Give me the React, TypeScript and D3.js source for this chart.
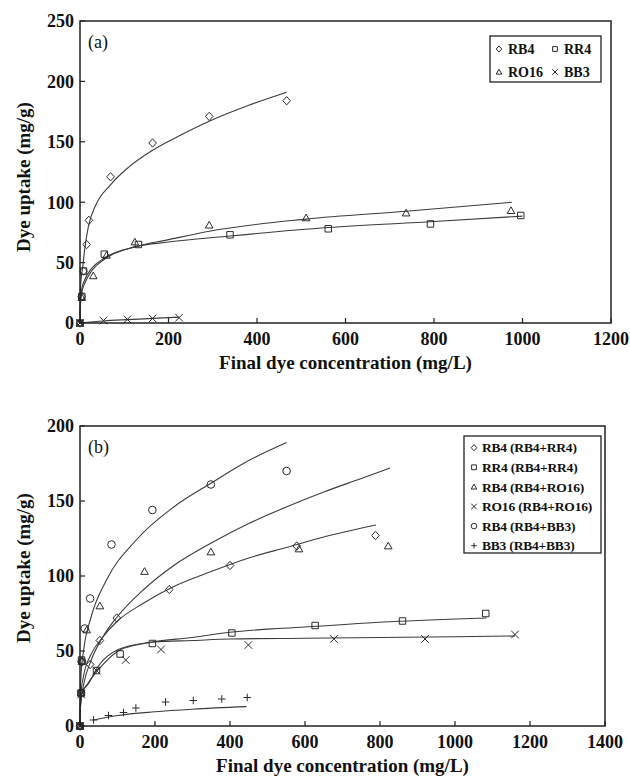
import { useEffect, useRef } from 'react'
import * as d3 from 'd3'

type Pt = [number, number]

// ---- panel (a): single-dye systems, [C, q] pairs ----
const aRB4Pts: Pt[] = [[0, 0], [4, 22], [8, 43], [15, 65], [20, 85], [69, 121], [164, 149], [292, 171], [467, 184]]
const aRR4Pts: Pt[] = [[0, 0], [4, 22], [8, 43], [55, 57], [132, 65], [339, 73], [561, 78], [792, 82], [996, 89]]
const aRO16Pts: Pt[] = [[0, 0], [4, 21], [30, 39], [60, 56], [124, 67], [292, 81], [511, 87], [737, 91], [974, 93]]
const aBB3Pts: Pt[] = [[0, 0], [53, 2], [107, 3], [164, 3.8], [224, 4.4]]

const aRB4Fit: Pt[] = [[0, 0], [1, 28], [3, 38], [6, 46], [11, 62], [19, 80], [35, 97], [68, 114], [110, 129], [164, 143], [230, 156], [292, 167], [380, 180], [467, 191]]
const aRR4Fit: Pt[] = [[0, 0], [1, 18], [4, 28], [11, 36], [26, 45], [56, 54], [124, 63], [200, 67], [339, 72], [561, 79], [800, 84], [1000, 88.5]]
const aRO16Fit: Pt[] = [[0, 0], [1, 15], [4, 25], [11, 33], [26, 43], [56, 53], [124, 63], [200, 69], [292, 76], [511, 86], [737, 92.5], [976, 100]]
const aBB3Fit: Pt[] = [[0, 0], [53, 1.7], [107, 2.8], [164, 3.8], [224, 4.9]]

// ---- panel (b): binary systems ----
const bRB4rrPts: Pt[] = [[0, 0], [3, 22], [5, 43], [27, 41], [53, 57], [98, 72], [238, 91], [400, 107], [578, 120], [788, 127]]
const bRR4rrPts: Pt[] = [[0, 0], [3, 22], [4, 44], [44, 37], [107, 48], [193, 55], [405, 62], [627, 67], [860, 70], [1082, 75]]
const bRB4roPts: Pt[] = [[0, 0], [3, 22], [5, 43], [18, 64], [53, 80], [172, 103], [349, 116], [584, 118], [822, 120]]
const bRO16roPts: Pt[] = [[0, 0], [3, 21], [44, 37], [122, 44], [216, 51], [449, 54], [677, 58], [920, 58], [1160, 61]]
const bRB4bbPts: Pt[] = [[0, 0], [3, 22], [5, 43], [13, 65], [27, 85], [84, 121], [193, 144], [349, 161], [551, 170]]
const bBB3bbPts: Pt[] = [[0, 0], [36, 4], [76, 7], [116, 9], [149, 12], [228, 16], [302, 17], [378, 18], [446, 19]]

const bRB4rrFit: Pt[] = [[0, 0], [1, 16], [3, 23], [10, 34], [30, 48], [60, 59], [100, 70], [170, 82], [250, 93], [350, 103], [450, 112], [550, 119], [650, 126], [789, 134]]
const bRR4rrFit: Pt[] = [[0, 0], [1, 13], [4, 22], [22, 28], [49, 40], [102, 51], [191, 56], [300, 59], [400, 62.5], [600, 66], [827, 69.5], [1084, 72]]
const bRB4roFit: Pt[] = [[0, 0], [1, 11], [3, 17], [10, 28], [30, 44], [60, 59], [100, 73], [170, 91], [250, 107], [350, 122], [450, 135], [550, 146], [650, 156], [750, 165], [827, 172]]
const bRO16roFit: Pt[] = [[0, 0], [1, 12], [4, 21], [20, 28], [49, 37.5], [102, 50], [150, 54], [200, 56], [300, 57], [400, 58], [600, 58.5], [800, 59], [1000, 59.5], [1160, 60]]
const bRB4bbFit: Pt[] = [[0, 0], [1, 24], [3, 35], [10, 51], [30, 73], [70, 97], [150, 124], [250, 146], [350, 162], [450, 177], [551, 189]]
const bBB3bbFit: Pt[] = [[36, 4], [100, 7], [200, 9.5], [300, 11.2], [444, 12.9]]

const aLegend = ['RB4', 'RR4', 'RO16', 'BB3']
const bLegend = ['RB4 (RB4+RR4)', 'RR4 (RB4+RR4)', 'RB4 (RB4+RO16)', 'RO16 (RB4+RO16)', 'RB4 (RB4+BB3)', 'BB3 (RB4+BB3)']

const xTicksA = [0, 200, 400, 600, 800, 1000, 1200]
const yTicksA = [0, 50, 100, 150, 200, 250]
const xTicksB = [0, 200, 400, 600, 800, 1000, 1200, 1400]
const yTicksB = [0, 50, 100, 150, 200]

const FONT = '"Liberation Serif", "Times New Roman", serif'
const INK = '#2b2b2b'

type Shape = 'diamond' | 'square' | 'triangle' | 'cross' | 'circle' | 'plus'

function markerPath(s: Shape, r: number) {
  switch (s) {
    case 'diamond': return `M0,${-r * 1.1}L${r},0L0,${r * 1.1}L${-r},0Z`
    case 'square': return `M${-r * 0.85},${-r * 0.85}h${r * 1.7}v${r * 1.7}h${-r * 1.7}Z`
    case 'triangle': return `M0,${-r}L${r},${r * 0.75}L${-r},${r * 0.75}Z`
    case 'cross': return `M${-r},${-r}L${r},${r}M${-r},${r}L${r},${-r}`
    case 'plus': return `M${-r},0L${r},0M0,${-r}L0,${r}`
    default: return `M${r},0A${r},${r} 0 1,1 ${-r},0A${r},${r} 0 1,1 ${r},0Z`
  }
}

interface PanelSpec {
  left: number; right: number; top: number; bottom: number
  xMax: number; yMax: number
  xTicks: number[]; yTicks: number[]
  label: string
  series: { pts: Pt[]; fit: Pt[]; shape: Shape }[]
}

function drawPanel(svg: d3.Selection<SVGSVGElement, unknown, null, undefined>, p: PanelSpec) {
  const x = d3.scaleLinear().domain([0, p.xMax]).range([p.left, p.right])
  const y = d3.scaleLinear().domain([0, p.yMax]).range([p.bottom, p.top])
  const g = svg.append('g')

  const line = d3.line<Pt>().x(d => x(d[0])).y(d => y(d[1])).curve(d3.curveMonotoneX)

  p.series.forEach(s => {
    g.append('path').datum(s.fit)
      .attr('fill', 'none').attr('stroke', '#3c3c3c').attr('stroke-width', 1.1)
      .attr('d', line)
  })
  p.series.forEach(s => {
    g.selectAll(null).data(s.pts).enter().append('path')
      .attr('transform', d => `translate(${x(d[0])},${y(d[1])})`)
      .attr('d', markerPath(s.shape, 3.8))
      .attr('fill', 'none').attr('stroke', INK).attr('stroke-width', 1)
  })

  // frame
  g.append('rect')
    .attr('x', p.left).attr('y', p.top)
    .attr('width', p.right - p.left).attr('height', p.bottom - p.top)
    .attr('fill', 'none').attr('stroke', '#222').attr('stroke-width', 1.5)

  // ticks, pointing inward
  p.xTicks.forEach(t => {
    g.append('line').attr('x1', x(t)).attr('x2', x(t)).attr('y1', p.bottom).attr('y2', p.bottom - 5)
      .attr('stroke', '#222').attr('stroke-width', 1.2)
    g.append('text').attr('x', x(t)).attr('y', p.bottom + 22)
      .attr('text-anchor', 'middle').attr('font-family', FONT).attr('font-weight', 'bold')
      .attr('font-size', 18).attr('fill', '#111').text(t)
  })
  p.yTicks.forEach(t => {
    g.append('line').attr('x1', p.left).attr('x2', p.left + 5).attr('y1', y(t)).attr('y2', y(t))
      .attr('stroke', '#222').attr('stroke-width', 1.2)
    g.append('text').attr('x', p.left - 6).attr('y', y(t)).attr('dy', '0.35em')
      .attr('text-anchor', 'end').attr('font-family', FONT).attr('font-weight', 'bold')
      .attr('font-size', 18).attr('fill', '#111').text(t)
  })

  g.append('text').attr('x', p.left + 8).attr('y', p.top + 27)
    .attr('font-family', FONT).attr('font-size', 18).attr('fill', '#111').text(p.label)

  g.append('text').attr('x', (p.left + p.right) / 2).attr('y', p.bottom + 46)
    .attr('text-anchor', 'middle').attr('font-family', FONT).attr('font-weight', 'bold')
    .attr('font-size', 19).attr('fill', '#111').text('Final dye concentration (mg/L)')

  g.append('text')
    .attr('transform', `translate(23,${(p.top + p.bottom) / 2 + (p.top < 100 ? 5 : -8)}) rotate(-90)`)
    .attr('dy', '0.35em').attr('text-anchor', 'middle').attr('font-family', FONT)
    .attr('font-weight', 'bold').attr('font-size', 19).attr('fill', '#111').text('Dye uptake (mg/g)')
}

export default function App() {
  const ref = useRef<SVGSVGElement>(null)

  useEffect(() => {
    if (!ref.current) return
    const svg = d3.select(ref.current)
    svg.selectAll('*').remove()

    drawPanel(svg, {
      left: 80, right: 611, top: 21, bottom: 323, xMax: 1200, yMax: 250,
      xTicks: xTicksA, yTicks: yTicksA, label: '(a)',
      series: [
        { pts: aRB4Pts, fit: aRB4Fit, shape: 'diamond' },
        { pts: aRR4Pts, fit: aRR4Fit, shape: 'square' },
        { pts: aRO16Pts, fit: aRO16Fit, shape: 'triangle' },
        { pts: aBB3Pts, fit: aBB3Fit, shape: 'cross' },
      ],
    })
    drawPanel(svg, {
      left: 80, right: 605, top: 426, bottom: 726, xMax: 1400, yMax: 200,
      xTicks: xTicksB, yTicks: yTicksB, label: '(b)',
      series: [
        { pts: bRB4rrPts, fit: bRB4rrFit, shape: 'diamond' },
        { pts: bRR4rrPts, fit: bRR4rrFit, shape: 'square' },
        { pts: bRB4roPts, fit: bRB4roFit, shape: 'triangle' },
        { pts: bRO16roPts, fit: bRO16roFit, shape: 'cross' },
        { pts: bRB4bbPts, fit: bRB4bbFit, shape: 'circle' },
        { pts: bBB3bbPts, fit: bBB3bbFit, shape: 'plus' },
      ],
    })

    // legend (a): 2x2 grid
    const la = svg.append('g')
    la.append('rect').attr('x', 490).attr('y', 36).attr('width', 111).attr('height', 46)
      .attr('fill', '#fff').attr('stroke', '#222').attr('stroke-width', 1.3)
    const aShapes: Shape[] = ['diamond', 'square', 'triangle', 'cross']
    aLegend.forEach((name, i) => {
      const col = i % 2, row = Math.floor(i / 2)
      const mx = col === 0 ? 499 : 555
      const my = row === 0 ? 49 : 72
      la.append('path').attr('transform', `translate(${mx},${my})`)
        .attr('d', markerPath(aShapes[i], 2.8)).attr('fill', 'none').attr('stroke', INK).attr('stroke-width', 1)
      la.append('text').attr('x', mx + 9).attr('y', my).attr('dy', '0.35em')
        .attr('font-family', FONT).attr('font-weight', 'bold').attr('font-size', 14).attr('fill', '#111').text(name)
    })

    // legend (b): one column
    const lb = svg.append('g')
    lb.append('rect').attr('x', 464).attr('y', 436).attr('width', 137).attr('height', 117)
      .attr('fill', '#fff').attr('stroke', '#222').attr('stroke-width', 1.3)
    const bShapes: Shape[] = ['diamond', 'square', 'triangle', 'cross', 'circle', 'plus']
    bLegend.forEach((name, i) => {
      const my = 447.7 + i * 19.6
      lb.append('path').attr('transform', `translate(474,${my})`)
        .attr('d', markerPath(bShapes[i], 2.8)).attr('fill', 'none').attr('stroke', INK).attr('stroke-width', 1)
      lb.append('text').attr('x', 482).attr('y', my).attr('dy', '0.35em')
        .attr('font-family', FONT).attr('font-weight', 'bold').attr('font-size', 13.5)
        .attr('letter-spacing', -0.2).attr('fill', '#111').text(name)
    })
  }, [])

  return (
    <svg ref={ref} width={630} height={781}
      style={{ position: 'absolute', left: 0, top: 0, background: '#fff' }} />
  )
}
